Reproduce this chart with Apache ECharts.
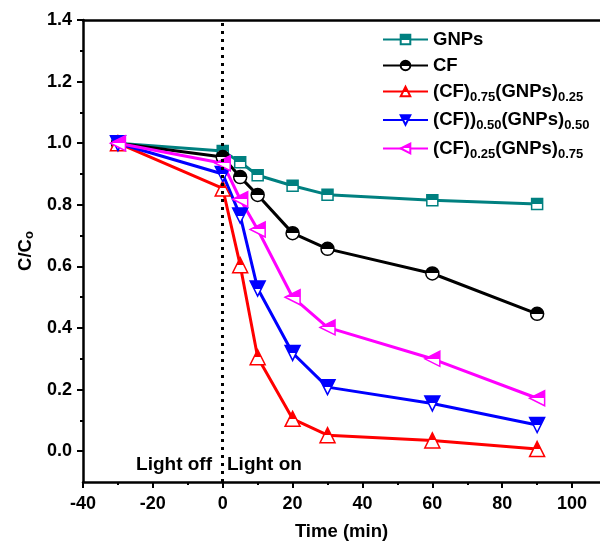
<!DOCTYPE html>
<html><head><meta charset="utf-8">
<script src="https://cdn.jsdelivr.net/npm/echarts@6/dist/echarts.min.js"></script>
<style>html,body{margin:0;padding:0;background:#fff;overflow:hidden}#c{width:600px;height:548px}</style>
</head><body><div id="c"></div>
<script>
const times = [-30, 0, 5, 10, 20, 30, 60, 90];
const gnps = [1.0, 0.975, 0.938, 0.896, 0.862, 0.833, 0.815, 0.803];
const cf = [1.0, 0.955, 0.89, 0.832, 0.708, 0.657, 0.577, 0.446];
const cf75 = [1.0, 0.853, 0.604, 0.305, 0.105, 0.052, 0.035, 0.007];
const cf50 = [1.0, 0.90, 0.765, 0.528, 0.319, 0.208, 0.155, 0.085];
const cf25 = [1.0, 0.935, 0.818, 0.72, 0.50, 0.402, 0.30, 0.172];
const xTicks = [-40, -20, 0, 20, 40, 60, 80, 100];
const xMinor = [-30, -10, 10, 30, 50, 70, 90];
const yTicks = [0.0, 0.2, 0.4, 0.6, 0.8, 1.0, 1.2, 1.4];
const yMinor = [0.1, 0.3, 0.5, 0.7, 0.9, 1.1, 1.3];
const seriesNames = ['GNPs', 'CF', 'CF75', 'CF50', 'CF25'];
const legendLabels = {
  'GNPs': 'GNPs',
  'CF': 'CF',
  'CF75': '(CF){s|0.75}(GNPs){s|0.25}',
  'CF50': '(CF)){s|0.50}(GNPs){s|0.50}',
  'CF25': '(CF){s|0.25}(GNPs){s|0.75}'
};
const FONT = "'Liberation Sans', Arial, sans-serif";

function half(color, vertical, fillSecond) {
  const stops = fillSecond
    ? [{offset:0,color:'#fff'},{offset:0.5,color:'#fff'},{offset:0.5,color:color},{offset:1,color:color}]
    : [{offset:0,color:color},{offset:0.5,color:color},{offset:0.5,color:'#fff'},{offset:1,color:'#fff'}];
  return vertical ? {type:'linear',x:0,y:0,x2:0,y2:1,colorStops:stops}
                  : {type:'linear',x:0,y:0,x2:1,y2:0,colorStops:stops};
}
function pairs(vals){ return times.map((t,i)=>[t, vals[i]]); }

const chart = echarts.init(document.getElementById('c'), null, {renderer:'canvas'});
const mk = (name, data, color, symbol, size, rot, fill) => ({
  name, type:'line', data: pairs(data), symbol, symbolSize: size, symbolRotate: rot,
  lineStyle:{color, width:3}, itemStyle:{color: fill, borderColor: color, borderWidth:1.5},
  showSymbol:true, z: 3
});
const s = [
  mk('GNPs', gnps, '#008080', 'rect', 11, 0, half('#008080', true, false)),
  mk('CF', cf, '#000000', 'circle', 13, 0, half('#000000', true, false)),
  mk('CF75', cf75, '#ff0000', 'triangle', 15, 0, half('#ff0000', true, false)),
  mk('CF50', cf50, '#0000ff', 'triangle', 15, 180, half('#0000ff', true, true)),
  mk('CF25', cf25, '#ff00ff', 'triangle', 15, 90, half('#ff00ff', false, true))
];
s[0].markLine = {
  silent:true, symbol:['none','none'], label:{show:false},
  lineStyle:{color:'#000', width:3, type:[3,5]},
  data:[{xAxis:0}]
};

const axisLbl = {color:'#000', fontFamily:FONT, fontWeight:'bold', fontSize:18};
chart.setOption({
  animation:false,
  grid:{left:83, top:20, right:0, height:462, outerBoundsMode:'none', containLabel:false},
  xAxis:[
    {type:'value', min:-40, max:108, position:'bottom',
     axisLine:{onZero:false, lineStyle:{color:'#000', width:2.5}},
     axisTick:{customValues:xTicks, length:6, lineStyle:{width:2}},
     axisLabel:Object.assign({customValues:xTicks, margin:13}, axisLbl),
     splitLine:{show:false},
     name:'Time (min)', nameLocation:'middle', nameGap:40,
     nameTextStyle:{color:'#000', fontFamily:FONT, fontWeight:'bold', fontSize:18.5}},
    {type:'value', min:-40, max:108, position:'bottom',
     axisLine:{show:false, onZero:false}, axisTick:{customValues:xMinor, length:3, lineStyle:{width:2, color:'#000'}},
     axisLabel:{show:false}, splitLine:{show:false}},
    {type:'value', min:-40, max:108, position:'top',
     axisLine:{onZero:false, lineStyle:{color:'#000', width:2.5}}, axisTick:{show:false},
     axisLabel:{show:false}, splitLine:{show:false}}
  ],
  yAxis:[
    {type:'value', min:-0.1, max:1.4, position:'left',
     axisLine:{show:true, onZero:false, lineStyle:{color:'#000', width:2.5}},
     axisTick:{show:true, customValues:yTicks, length:6, lineStyle:{width:2}},
     axisLabel:Object.assign({customValues:yTicks, margin:11, formatter:v=>v.toFixed(1)}, axisLbl),
     splitLine:{show:false},
     name:'C/C{s|o}', nameLocation:'middle', nameGap:45, nameRotate:90,
     nameTextStyle:{color:'#000', fontFamily:FONT, fontWeight:'bold', fontSize:18.5,
       rich:{s:{fontFamily:FONT, fontWeight:'bold', fontSize:13, color:'#000', padding:[0,0,-8,0]}}}},
    {type:'value', min:-0.1, max:1.4, position:'left',
     axisLine:{show:false, onZero:false}, axisTick:{show:true, customValues:yMinor, length:3, lineStyle:{width:2, color:'#000'}},
     axisLabel:{show:false}, splitLine:{show:false}}
  ],
  legend:{
    data: seriesNames, orient:'vertical', left:377, top:25, itemGap:7,
    itemWidth:45, itemHeight:12,
    formatter: n => legendLabels[n],
    textStyle:{color:'#000', fontFamily:FONT, fontWeight:'bold', fontSize:18.5,
      rich:{s:{fontFamily:FONT, fontWeight:'bold', fontSize:13, color:'#000', padding:[11,0,0,0]}}}
  },
  graphic:[
    {type:'text', right:388, top:455, style:{text:'Light off', fill:'#000', font:"bold 19px 'Liberation Sans', Arial"}},
    {type:'text', left:227, top:455, style:{text:'Light on', fill:'#000', font:"bold 19px 'Liberation Sans', Arial"}}
  ],
  series:s
});
</script></body></html>
